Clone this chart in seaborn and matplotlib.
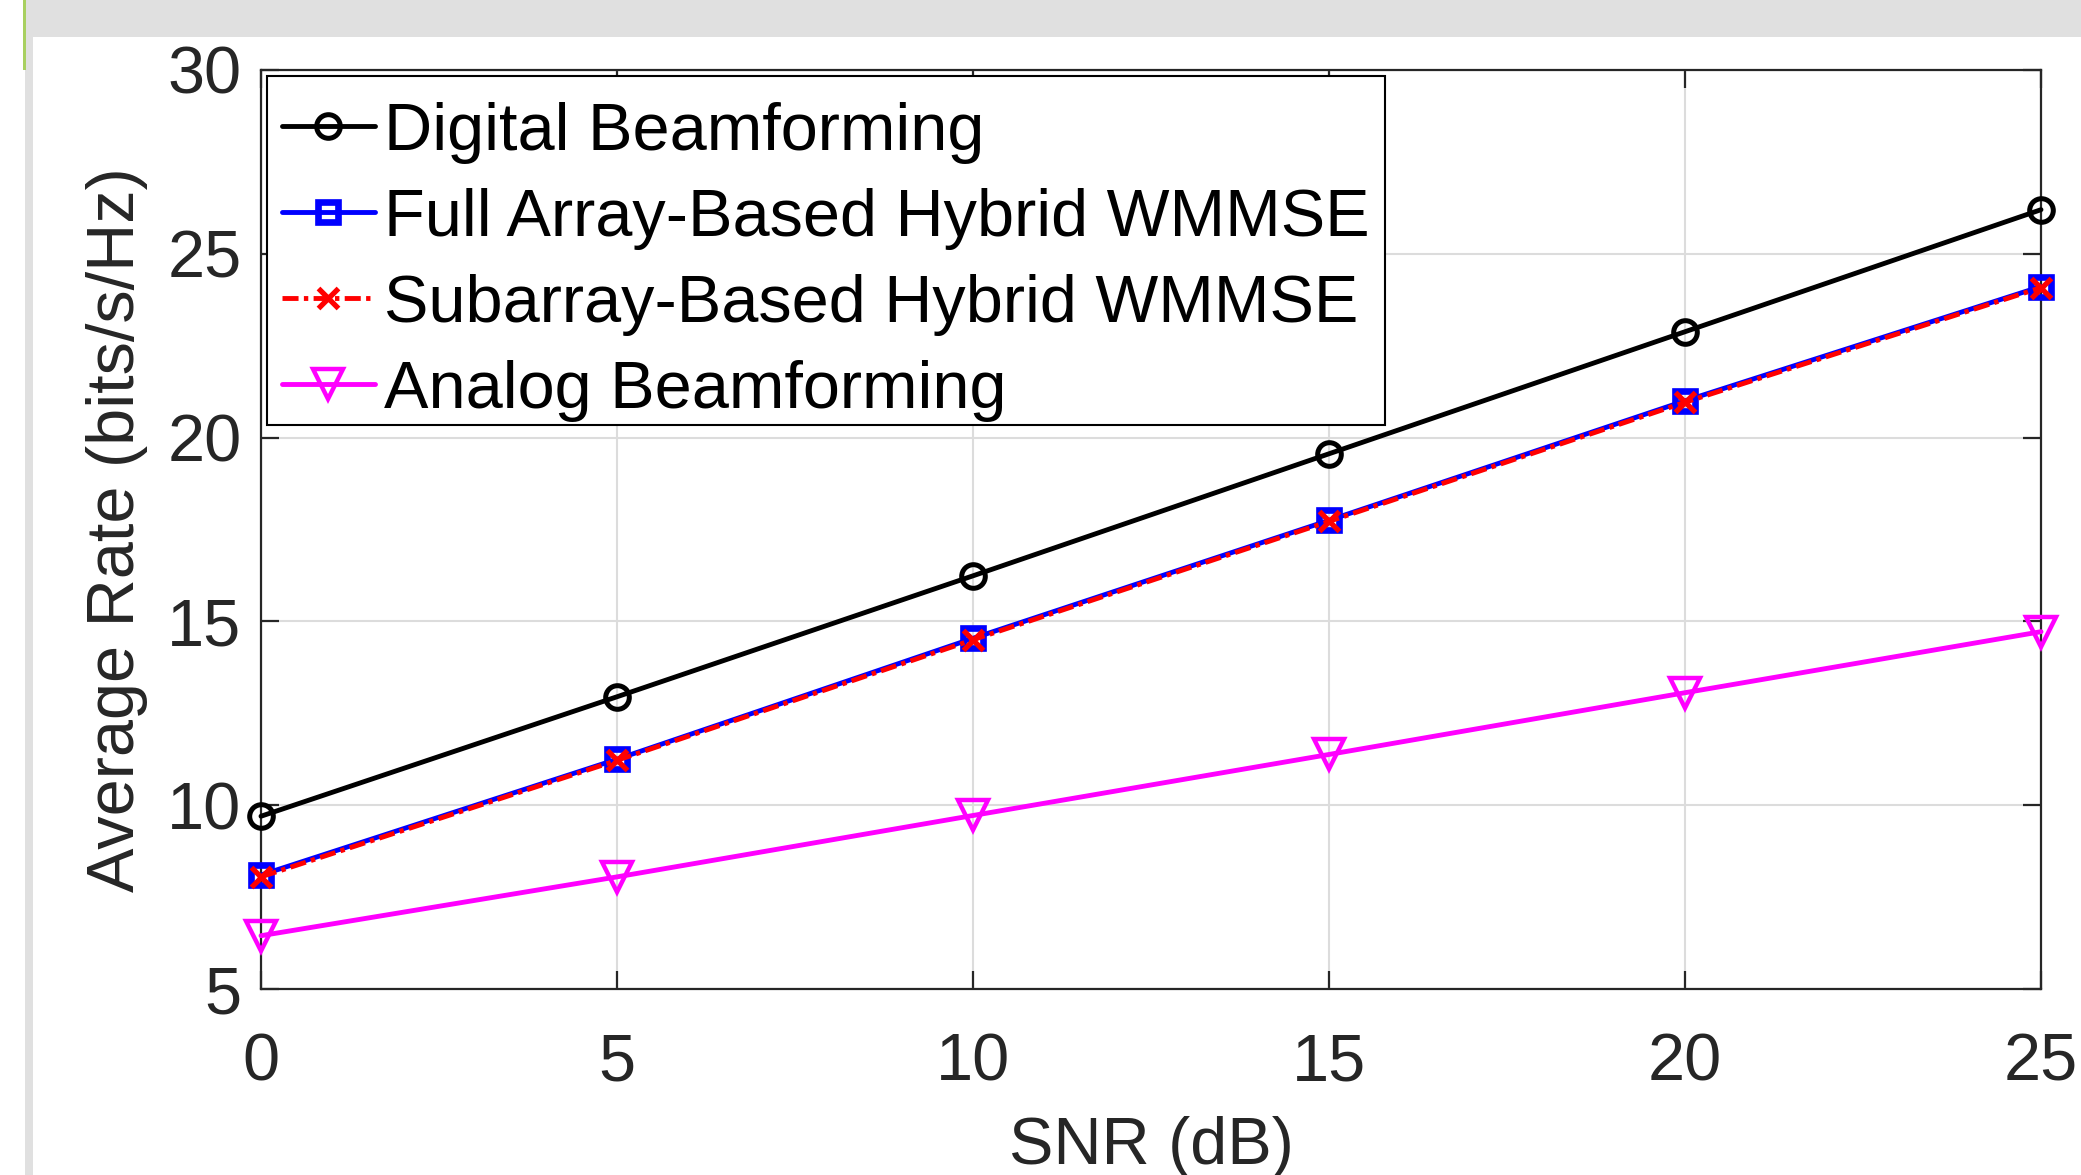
import matplotlib
matplotlib.use("Agg")
import matplotlib.pyplot as plt
from matplotlib.patches import Rectangle
from matplotlib.transforms import Affine2D
import seaborn as sns
import pandas as pd

# ---- data ----
snr_db = [0, 5, 10, 15, 20, 25]
digital_bf = [9.70, 12.95, 16.24, 19.56, 22.88, 26.20]
full_array_wmmse = [8.10, 11.25, 14.54, 17.75, 21.00, 24.11]
subarray_wmmse = [8.05, 11.22, 14.50, 17.72, 20.96, 24.08]
analog_bf = [6.45, 8.05, 9.72, 11.38, 13.06, 14.72]

series_names = ["Digital Beamforming",
                "Full Array-Based Hybrid WMMSE",
                "Subarray-Based Hybrid WMMSE",
                "Analog Beamforming"]
x_ticks = [0, 5, 10, 15, 20, 25]
y_ticks = [5, 10, 15, 20, 25, 30]

sns.set_theme(style="whitegrid")
plt.rcParams['font.family'] = ['Liberation Sans', 'DejaVu Sans']

W, H = 2081, 1175
fig = plt.figure(figsize=(W / 100, H / 100), dpi=100)
fig.patch.set_facecolor("white")
ax = fig.add_axes([261 / W, 1 - 989 / H, (2041 - 261) / W, (989 - 70) / H])
ax.set_facecolor("white")

df = pd.DataFrame({"snr": snr_db, series_names[0]: digital_bf,
                   series_names[1]: full_array_wmmse,
                   series_names[2]: subarray_wmmse,
                   series_names[3]: analog_bf})

LW = 3.5
styles = [
    dict(color="black", marker="o", linestyle="-", markersize=17, markeredgewidth=3.6),
    dict(color="#0000ff", marker="s", linestyle="-", markersize=14, markeredgewidth=4.8),
    dict(color="#ff0000", marker="x", linestyle=(0, (3.3, 1.1, 0.9, 1.1)), markersize=15, markeredgewidth=3.8),
    dict(color="#ff00ff", marker="v", linestyle="-", markersize=22, markeredgewidth=3.2),
]

for name, st in zip(series_names, styles):
    sns.lineplot(data=df, x="snr", y=name, ax=ax, label=name,
                 color=st["color"], linestyle=st["linestyle"], linewidth=LW,
                 marker=st["marker"], markersize=st["markersize"],
                 markerfacecolor="none", markeredgecolor=st["color"],
                 markeredgewidth=st["markeredgewidth"], clip_on=False, zorder=3)

for line, st in zip(ax.get_lines(), styles):
    line.set_linewidth(LW)
    line.set_linestyle(st["linestyle"])
    line.set_markersize(st["markersize"])
    line.set_markeredgewidth(st["markeredgewidth"])
    line.set_markerfacecolor("none")
    line.set_markeredgecolor(st["color"])

ax.set_xlim(0, 25)
ax.set_ylim(5, 30)
ax.set_xticks(x_ticks)
ax.set_yticks(y_ticks)
ax.set_xticklabels([str(v) for v in x_ticks])
ax.set_yticklabels([str(v) for v in y_ticks])

ax.grid(True, color="#dcdcdc", linewidth=1.5)
ax.set_axisbelow(True)
for sp in ax.spines.values():
    sp.set_visible(True)
    sp.set_color("#262626")
    sp.set_linewidth(1.6)

ax.tick_params(axis="both", which="major", direction="in", length=13, width=1.6,
               color="#262626", labelcolor="#262626", labelsize=48,
               top=True, right=True, bottom=True, left=True)
ax.tick_params(axis="x", pad=31)
ax.tick_params(axis="y", pad=14)

ax.set_xlabel("SNR (dB)", fontsize=48, color="#262626", labelpad=16)
ax.set_ylabel("Average Rate (bits/s/Hz)", fontsize=48, color="#262626", labelpad=14)

leg = ax.legend(loc="upper left", frameon=True, fancybox=False,
                shadow=False, framealpha=1, edgecolor="black",
                prop={"family": "Liberation Sans", "size": 48},
                borderaxespad=0.09, borderpad=0.22, handlelength=1.4,
                handletextpad=0.14, labelspacing=0.36)
leg.get_frame().set_linewidth(1.5)

# entries sit a little lower inside the frame, as in the reference
shift = Affine2D().translate(0, -11)
for t in leg.get_texts():
    t.set_color("black")
    t.set_y(-11)
for h in leg.legend_handles:
    h.set_transform(h.get_transform() + shift)

# screenshot chrome around the figure
fig.add_artist(Rectangle((25 / W, 1 - 37 / H), 1 - 25 / W, 37 / H,
                         transform=fig.transFigure, facecolor="#e0e0e0",
                         edgecolor="none", zorder=10))
fig.add_artist(Rectangle((25 / W, 0), 8 / W, 1 - 37 / H,
                         transform=fig.transFigure, facecolor="#e0e0e0",
                         edgecolor="none", zorder=10))
fig.add_artist(Rectangle((23 / W, 1 - 70 / H), 2.5 / W, 70 / H,
                         transform=fig.transFigure, facecolor="#a8d060",
                         edgecolor="none", zorder=11))

fig.savefig("out.png", dpi=100)
